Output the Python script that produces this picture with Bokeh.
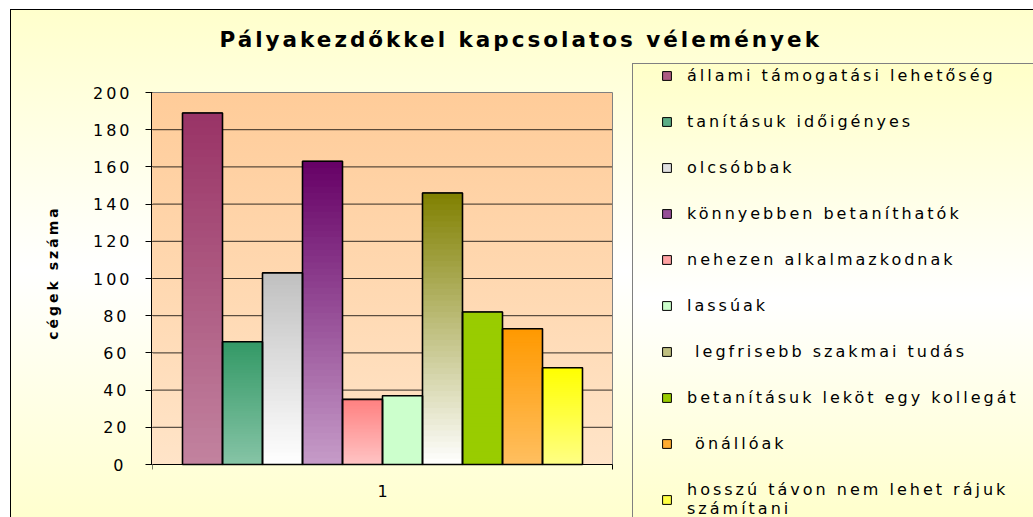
import numpy as np
from bokeh.plotting import figure
from bokeh.models import Range1d, FixedTicker, Legend, LegendItem, ColumnDataSource
from bokeh.embed import file_html
from bokeh.resources import INLINE

# ---------------- data ----------------
TITLE = "Pályakezdőkkel kapcsolatos vélemények"
Y_LABEL = "cégek száma"
CATEGORY = "1"
series_names = [
    "állami támogatási lehetőség",
    "tanításuk időigényes",
    "olcsóbbak",
    "könnyebben betaníthatók",
    "nehezen alkalmazkodnak",
    "lassúak",
    " legfrisebb szakmai tudás",
    "betanításuk leköt egy kollegát",
    " önállóak",
    "hosszú távon nem lehet rájuk\nszámítani",
]
values = [189, 66, 103, 163, 35, 37, 146, 82, 73, 52]
y_ticks = [0, 20, 40, 60, 80, 100, 120, 140, 160, 180, 200]
top_colors = ["#993366", "#339966", "#C0C0C0", "#660066", "#FF8080",
              "#CCFFCC", "#808000", "#99CC00", "#FF9900", "#FFFF00"]
bottom_colors = ["#C2839F", "#86C4A6", "#FFFFFF", "#C69CC8", "#FFC4C4",
                 "#CCFFCC", "#FFFFFF", "#99CC00", "#FFBF60", "#FFFF85"]

# ---------------- helpers ----------------
def hex2rgb(h):
    h = h.lstrip("#")
    return np.array([int(h[i:i + 2], 16) for i in (0, 2, 4)], dtype=float)

def mix(c1, c2, t):
    c = hex2rgb(c1) * (1 - t) + hex2rgb(c2) * t
    return "#%02x%02x%02x" % tuple(int(round(v)) for v in c)

n = len(values)
idx = list(range(n))
mid_colors = [mix(top_colors[i], bottom_colors[i], 0.5) for i in idx]
y_min, y_max = y_ticks[0], y_ticks[-1]

# gradient slices (nested, tallest first) derived from the values
N = 48
gx, gtop, gcol = [], [], []
for k in range(N):
    for i in idx:
        gx.append(i)
        gtop.append(values[i] * (N - k) / N)
        gcol.append(mix(top_colors[i], bottom_colors[i], (k + 0.5) / N))

# ---------------- layout (pixels) ----------------
W, H = 1033, 517
PL, PT, PW, PH = 152, 92, 460, 372      # plotting area of the bar chart
FT = 60                                  # top of the drawing frame
BAR_PX = 40                              # pixels per bar slot
ppu = PH / (y_max - y_min)               # pixels per value unit
x_lo = -1.25
x_hi_bars = x_lo + PW / BAR_PX
x_hi = x_lo + (W - PL) / BAR_PX
y_lo = y_min - (H - (PT + PH)) / ppu
y_hi = y_max + (PT - FT) / ppu

p = figure(width=W, height=H, output_backend="svg", toolbar_location=None,
           x_range=Range1d(x_lo, x_hi), y_range=Range1d(y_lo, y_hi),
           min_border_left=PL, min_border_right=0,
           min_border_top=FT, min_border_bottom=0)

p.border_fill_alpha = 0
p.background_fill_alpha = 0
p.outline_line_color = None

bg_layers = [
    # chart outer border (left, top)
    "linear-gradient(#000,#000) 10px 9px / 1px 520px no-repeat",
    "linear-gradient(#000,#000) 10px 9px / 1030px 1px no-repeat",
    # value axis line
    "linear-gradient(#000,#000) 151px 92px / 1px 373px no-repeat",
    # legend box border and fill
    "linear-gradient(#808080,#808080) 632px 63px / 1px 460px no-repeat",
    "linear-gradient(#808080,#808080) 632px 63px / 410px 1px no-repeat",
    "linear-gradient(#FFFFC8, #FFFFFF 50%, #FFFFC8) 633px 64px / 400px 470px no-repeat",
    # plot area
    "linear-gradient(#FFCC99, #FFE4C8) 152px 92px / 460px 372px no-repeat",
    # chart area
    "linear-gradient(#FFFFCC, #FFFFFF 50%, #FFFFCC) 11px 10px / 1030px 520px no-repeat",
    "#FFFFFF",
]
p.styles = {"background": ", ".join(bg_layers),
            "letter-spacing": "3px", "white-space": "pre"}

FONT = "DejaVu Sans"

# title
p.title.text = TITLE
p.title.align = "left"
p.title.offset = 67
p.title.text_font = FONT
p.title.text_font_style = "bold"
p.title.text_font_size = "21.5px"
p.title.text_color = "#000000"
p.title.standoff = 17

# default grids off, drawn within the plotting area below
p.xgrid.visible = False
p.ygrid.visible = False

# y axis
p.yaxis.ticker = FixedTicker(ticks=y_ticks)
p.yaxis.bounds = (y_min - 14.5, y_max)
p.yaxis.major_tick_out = 7
p.yaxis.major_tick_in = 0
p.yaxis.minor_tick_line_color = None
p.yaxis.axis_line_color = None
p.yaxis.major_tick_line_color = "#000000"
p.yaxis.major_label_text_font = FONT
p.yaxis.major_label_text_font_size = "16px"
p.yaxis.major_label_text_color = "#000000"
p.yaxis.major_label_standoff = 22
p.yaxis.axis_label = Y_LABEL
p.yaxis.axis_label_text_font = FONT
p.yaxis.axis_label_text_font_style = "bold"
p.yaxis.axis_label_text_font_size = "14px"
p.yaxis.axis_label_text_color = "#000000"
p.yaxis.axis_label_standoff = 29

# x axis (category axis at value 0)
center = (n - 1) / 2
p.xaxis.fixed_location = y_min
p.xaxis.bounds = (x_lo, x_hi_bars)
p.xaxis.ticker = FixedTicker(ticks=[center], minor_ticks=[x_lo, x_hi_bars])
p.xaxis.major_label_overrides = {center: CATEGORY}
p.xaxis.major_tick_out = 0
p.xaxis.major_tick_in = 0
p.xaxis.minor_tick_out = 5
p.xaxis.minor_tick_in = 0
p.xaxis.minor_tick_line_color = "#000000"
p.xaxis.axis_line_color = "#000000"
p.xaxis.major_label_text_font = FONT
p.xaxis.major_label_text_font_size = "16px"
p.xaxis.major_label_text_color = "#000000"
p.xaxis.major_label_standoff = 15

# gridlines and plot-area border
inner = y_ticks[1:-1]
p.segment(x0=[x_lo] * len(inner), x1=[x_hi_bars] * len(inner), y0=inner, y1=inner,
          line_color="#000000", line_alpha=0.8, line_width=1)
p.segment(x0=[x_lo, x_hi_bars], x1=[x_hi_bars, x_hi_bars], y0=[y_max, y_min], y1=[y_max, y_max],
          line_color="#808080", line_width=1)

# bars
base_src = ColumnDataSource(dict(x=idx, top=values, color=mid_colors, name=series_names))
base = p.vbar(x="x", top="top", width=1.0, source=base_src,
              fill_color="color", line_color="#000000", line_width=1)
grad_src = ColumnDataSource(dict(x=gx, top=gtop, color=gcol))
p.vbar(x="x", top="top", width=1.0, source=grad_src,
       fill_color="color", line_color=None)
p.vbar(x="x", top="top", width=1.0, source=base_src,
       fill_alpha=0, line_color="#000000", line_width=1.6)

legend = Legend(items=[LegendItem(label=series_names[i], renderers=[base], index=i) for i in idx],
                location=(509, -1), orientation="vertical",
                glyph_width=11, glyph_height=11, label_height=11, label_width=10,
                label_standoff=15, spacing=27, padding=0, margin=0,
                label_text_font=FONT, label_text_font_size="16px", label_text_color="#000000",
                border_line_alpha=0, background_fill_alpha=0)
p.add_layout(legend, "center")

open("out.html", "w").write(file_html(p, INLINE))
